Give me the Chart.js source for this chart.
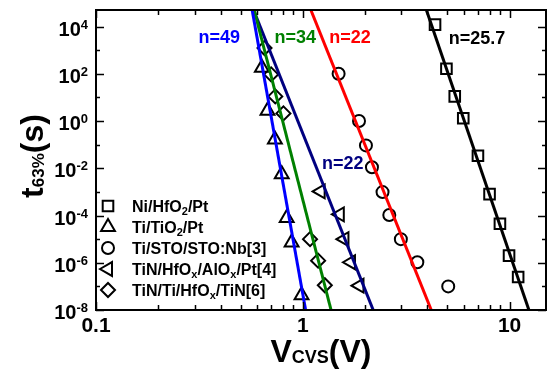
<!DOCTYPE html>
<html>
<head>
<meta charset="utf-8">
<script src="https://cdn.jsdelivr.net/npm/chart.js@4.4.0/dist/chart.umd.min.js"></script>
<style>
  html, body { margin: 0; padding: 0; background: #fff; }
  #wrap { width: 556px; height: 375px; }
</style>
</head>
<body>
<div id="wrap"><canvas id="chart" width="556" height="375"></canvas></div>
<script>
// V (volts) and t63% (seconds)
const niHfoV = [4.36, 4.95, 5.43, 5.97, 7.03, 8.0, 8.98, 9.94, 11.0];
const niHfoT = [1.2e4, 162, 11, 1.3, 0.034, 8e-4, 4.5e-5, 2e-6, 2.5e-7];
const tiTioV = [0.634, 0.675, 0.733, 0.791, 0.836, 0.883, 0.986];
const tiTioT = [178, 2.75, 0.166, 5.6e-3, 7.9e-5, 7.2e-6, 4.2e-8];
const tiStoV = [1.49, 1.87, 2.02, 2.16, 2.43, 2.62, 2.98, 3.58, 5.05];
const tiStoT = [100, 1.0, 0.093, 0.011, 9.8e-4, 1.05e-4, 1e-5, 1.05e-6, 1e-7];
const tinAloV = [1.22, 1.51, 1.59, 1.71, 1.88];
const tinAloT = [1.05e-3, 1.12e-4, 1e-5, 1.05e-6, 1.07e-7];
const tinTiV = [0.653, 0.703, 0.736, 0.806, 1.084, 1.186, 1.278];
const tinTiT = [1230, 94, 11, 2.1, 1e-5, 1.23e-6, 1.12e-7];

// fitted power-law lines, end points (top edge, bottom edge)
const fitT = [5e4, 1e-8];
const fitNiV = [3.96, 12.4];
const fitStoV = [1.094, 4.18];
const fitTioV = [0.569, 1.032];
const fitTinTiV = [0.582, 1.37];
const fitAloV = [0.578, 2.19];

const xMajor = [0.1, 1, 10];
const xTickLabels = ['0.1', '1', '10'];
const xMinor = [0.2, 0.3, 0.4, 0.5, 0.6, 0.7, 0.8, 0.9, 2, 3, 4, 5, 6, 7, 8, 9];
const yMajor = [1e-8, 1e-6, 1e-4, 1e-2, 1, 1e2, 1e4];
const yTickExps = ['-8', '-6', '-4', '-2', '0', '2', '4'];
const yMinor = [1e-7, 1e-5, 1e-3, 1e-1, 10, 1e3];

const nLabels = [
  { text: 'n=49', x: 0.394, y: 3890, color: '#0000ff' },
  { text: 'n=34', x: 0.92, y: 3890, color: '#008000' },
  { text: 'n=22', x: 1.69, y: 3890, color: '#ff0000' },
  { text: 'n=25.7', x: 6.95, y: 3550, color: '#000000' },
  { text: 'n=22', x: 1.56, y: 0.017, color: '#000080' }
];

const FONT = '"Liberation Sans", Arial, sans-serif';

function pts(xs, ys) {
  return xs.map((v, i) => ({ x: v, y: ys[i] }));
}

function richWidth(ctx, parts) {
  let w = 0;
  parts.forEach(p => {
    ctx.font = 'bold ' + p.size + 'px ' + FONT;
    w += ctx.measureText(p.t).width;
  });
  return w;
}

function drawRich(ctx, parts, x, y, align) {
  const w = richWidth(ctx, parts);
  let cx = align === 'center' ? x - w / 2 : align === 'right' ? x - w : x;
  ctx.textAlign = 'left';
  ctx.textBaseline = 'alphabetic';
  parts.forEach(p => {
    ctx.font = 'bold ' + p.size + 'px ' + FONT;
    ctx.fillText(p.t, cx, y + (p.dy || 0));
    cx += ctx.measureText(p.t).width;
  });
}

function sub(t) { return { t: t, size: 11, dy: 3 }; }
function txt(t) { return { t: t, size: 16 }; }

const legendItems = [
  { style: 'rect', r: 7.5, rot: 0, parts: [txt('Ni/HfO'), sub('2'), txt('/Pt')] },
  { style: 'triangle', r: 8, rot: 0, parts: [txt('Ti/TiO'), sub('2'), txt('/Pt')] },
  { style: 'circle', r: 6, rot: 0, parts: [txt('Ti/STO/STO:Nb[3]')] },
  { style: 'triangle', r: 8, rot: -90, parts: [txt('TiN/HfO'), sub('x'), txt('/AlO'), sub('x'), txt('/Pt[4]')] },
  { style: 'rectRot', r: 7, rot: 0, parts: [txt('TiN/Ti/HfO'), sub('x'), txt('/TiN[6]')] }
];

const decor = {
  id: 'decor',
  afterDraw(chart) {
    const ctx = chart.ctx;
    const a = chart.chartArea;
    const xs = chart.scales.x, ys = chart.scales.y;
    ctx.save();
    ctx.strokeStyle = '#000';
    ctx.fillStyle = '#000';
    ctx.lineWidth = 2;
    ctx.strokeRect(a.left, a.top, a.right - a.left, a.bottom - a.top);

    ctx.lineWidth = 1.5;
    ctx.beginPath();
    const tickX = (v, len) => {
      const px = Math.round(xs.getPixelForValue(v)) + 0.5;
      ctx.moveTo(px, a.bottom); ctx.lineTo(px, a.bottom - len);
      ctx.moveTo(px, a.top); ctx.lineTo(px, a.top + len);
    };
    const tickY = (v, len) => {
      const py = Math.round(ys.getPixelForValue(v)) + 0.5;
      ctx.moveTo(a.left, py); ctx.lineTo(a.left + len, py);
      ctx.moveTo(a.right, py); ctx.lineTo(a.right - len, py);
    };
    xMajor.forEach(v => tickX(v, 8));
    xMinor.forEach(v => tickX(v, 5));
    yMajor.forEach(v => tickY(v, 8));
    yMinor.forEach(v => tickY(v, 4));
    ctx.stroke();

    // tick labels
    xMajor.forEach((v, i) => {
      drawRich(ctx, [{ t: xTickLabels[i], size: 21 }], xs.getPixelForValue(v), 332, 'center');
    });
    yMajor.forEach((v, i) => {
      const py = ys.getPixelForValue(v);
      drawRich(ctx, [{ t: '10', size: 20 }, { t: yTickExps[i], size: 13, dy: -7 }], a.left - 8, py + 9, 'right');
    });

    // axis titles
    drawRich(ctx, [{ t: 'V', size: 32 }, { t: 'CVS', size: 18, dy: 1 }, { t: '(V)', size: 32 }],
      (a.left + a.right) / 2, 362, 'center');
    ctx.save();
    ctx.translate(43, (a.top + a.bottom) / 2 - 4);
    ctx.rotate(-Math.PI / 2);
    drawRich(ctx, [{ t: 't', size: 32 }, { t: '63%', size: 17, dy: 1 }, { t: '(s)', size: 32 }], 0, 0, 'center');
    ctx.restore();

    // slope labels
    nLabels.forEach(l => {
      ctx.fillStyle = l.color;
      drawRich(ctx, [{ t: l.text, size: 18 }], xs.getPixelForValue(l.x), ys.getPixelForValue(l.y) + 6.5, 'center');
    });

    // legend (hollow markers)
    ctx.strokeStyle = '#000';
    ctx.lineWidth = 2;
    legendItems.forEach((it, i) => {
      const cy = a.top + 196 + i * 21;
      ctx.fillStyle = 'rgba(0,0,0,0)';
      Chart.helpers.drawPoint(ctx, { pointStyle: it.style, radius: it.r, rotation: it.rot, borderWidth: 2 }, a.left + 12, cy);
      ctx.fillStyle = '#000';
      drawRich(ctx, it.parts, a.left + 36, cy + 6, 'left');
    });
    ctx.restore();
  }
};

function fitLine(xv, color) {
  return {
    data: pts(xv, fitT), showLine: true, borderColor: color, borderWidth: 3,
    pointRadius: 0, pointHoverRadius: 0, fill: false
  };
}

function markers(xv, yv, style, r, rot) {
  return {
    data: pts(xv, yv), pointStyle: style, pointRadius: r, pointRotation: rot || 0,
    borderColor: '#000', backgroundColor: 'rgba(0,0,0,0)', pointBorderWidth: 2, showLine: false
  };
}

new Chart(document.getElementById('chart'), {
  type: 'scatter',
  data: {
    datasets: [
      fitLine(fitNiV, '#000000'),
      fitLine(fitStoV, '#ff0000'),
      fitLine(fitTioV, '#0000ff'),
      fitLine(fitTinTiV, '#008000'),
      fitLine(fitAloV, '#000080'),
      markers(niHfoV, niHfoT, 'rect', 7.5),
      markers(tiTioV, tiTioT, 'triangle', 8),
      markers(tiStoV, tiStoT, 'circle', 6),
      markers(tinAloV, tinAloT, 'triangle', 8, -90),
      markers(tinTiV, tinTiT, 'rectRot', 7)
    ]
  },
  options: {
    responsive: false,
    animation: false,
    layout: { padding: { left: 0, top: 7, right: 6, bottom: 0 } },
    plugins: { legend: { display: false }, tooltip: { enabled: false } },
    scales: {
      x: {
        type: 'logarithmic', min: 0.1, max: 15,
        grid: { display: false }, border: { display: false },
        ticks: { display: false },
        afterFit(s) { s.height = 65; }
      },
      y: {
        type: 'logarithmic', min: 1e-8, max: 5e4,
        grid: { display: false }, border: { display: false },
        ticks: { display: false },
        afterFit(s) { s.width = 96; }
      }
    }
  },
  plugins: [decor]
});
</script>
</body>
</html>
